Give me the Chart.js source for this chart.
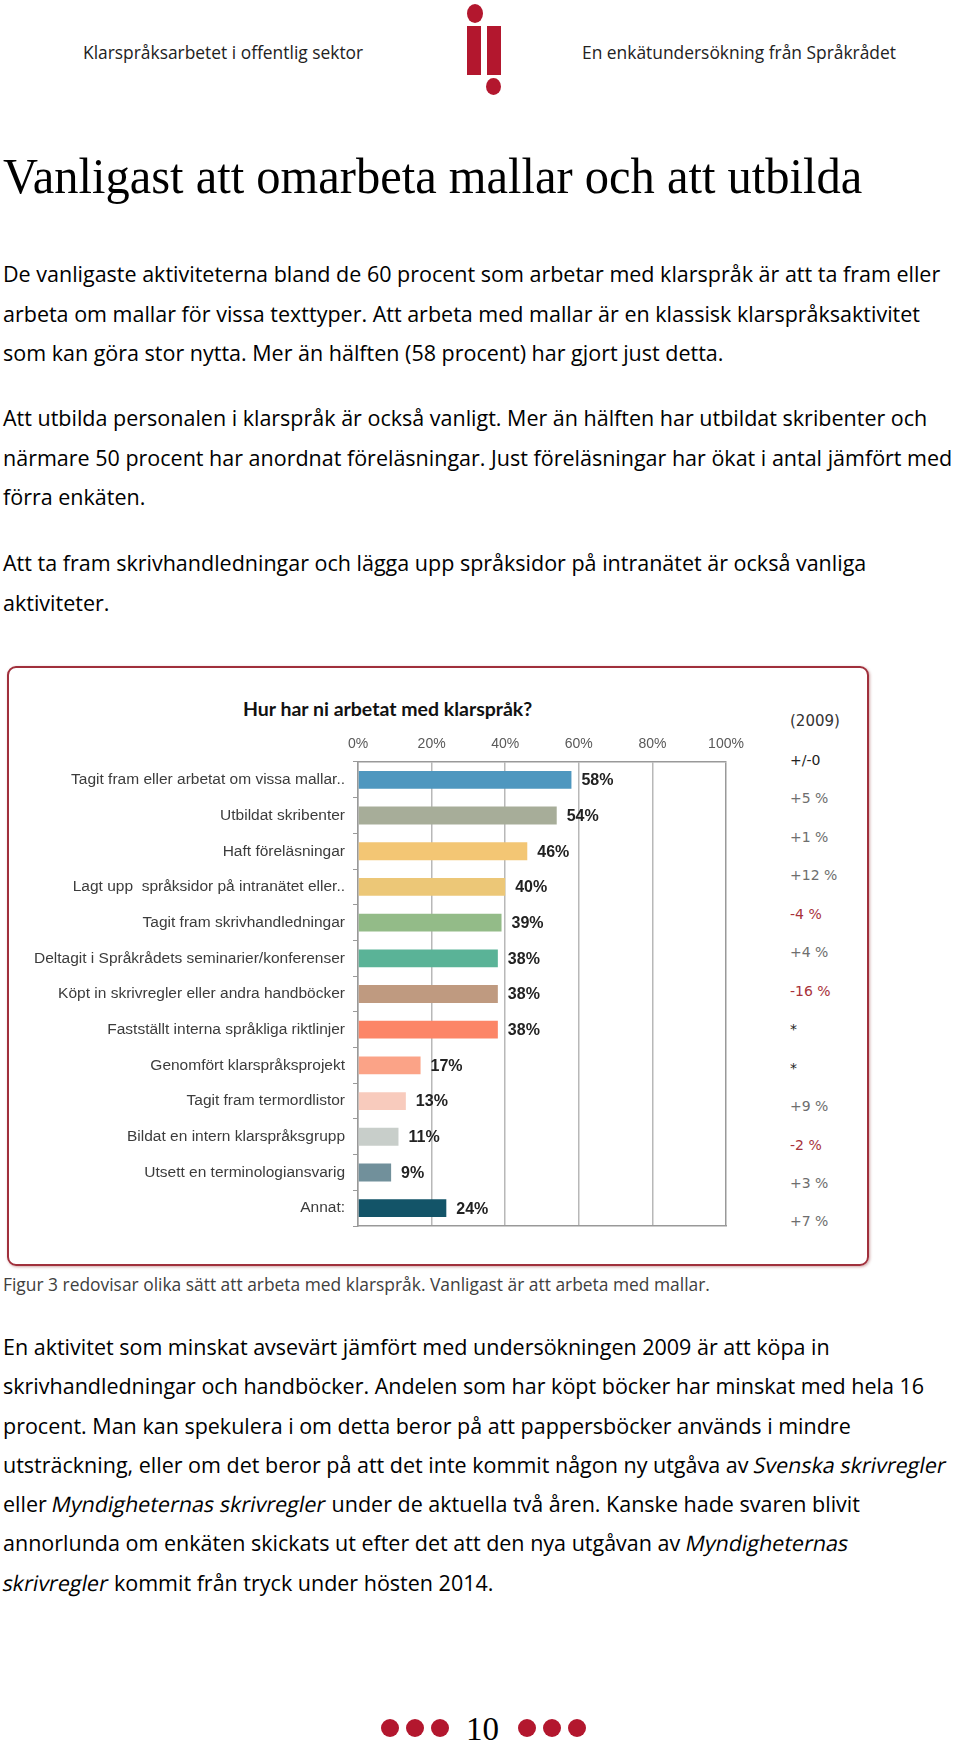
<!DOCTYPE html>
<html lang="sv">
<head>
<meta charset="utf-8">
<script src="https://cdn.jsdelivr.net/npm/chart.js@4.4.1/dist/chart.umd.min.js"></script>
<style>
  body { margin: 0; background: #fff; }
  #page { position: relative; width: 960px; height: 1746px; overflow: hidden; font-family: "Open Sans", sans-serif; color: #000; }
  .abs { position: absolute; white-space: nowrap; }
  .head { font-size: 17.4px; line-height: 20px; color: #222; top: 42px; }
  .body { font-size: 21.5px; line-height: 39.6px; left: 3px; }
  .kursiv { display: inline-block; transform: skewX(-11deg); }
  #rubrik { font-family: "Liberation Serif", serif; font-size: 50px; line-height: 60px; left: 3px; top: 146px; transform-origin: left center; transform: scaleX(0.97); }
  #ram { position: absolute; left: 7px; top: 666px; width: 858px; height: 596px; border: 2.5px solid #a0303c; border-radius: 9px; box-shadow: 1px 1px 3px rgba(120,0,0,0.35); }
  #charttitel { font-family: Lato, sans-serif; font-weight: bold; font-size: 19.5px; line-height: 24px; left: 243px; top: 697px; color: #111; }
  .andring { font-family: "DejaVu Sans", sans-serif; font-size: 14px; line-height: 20px; left: 790px; }
  #caption { font-size: 17.4px; line-height: 20px; left: 3px; top: 1274px; color: #404040; }
  .dot { position: absolute; width: 18px; height: 18px; border-radius: 50%; background: #b3172e; top: 1719px; }
  .logo { position: absolute; background: #b3172e; }
</style>
</head>
<body>
<div id="page">
  <div class="abs head" style="left:83px">Klarspråksarbetet i offentlig sektor</div>
  <div class="abs head" style="left:582px">En enkätundersökning från Språkrådet</div>
  <div class="logo" style="left:467px;top:4px;width:16px;height:19px;border-radius:50%"></div>
  <div class="logo" style="left:467px;top:26px;width:14px;height:49px"></div>
  <div class="logo" style="left:487px;top:26px;width:14px;height:49px"></div>
  <div class="logo" style="left:486px;top:78px;width:15px;height:17px;border-radius:50%"></div>

  <div id="rubrik" class="abs">Vanligast att omarbeta mallar och att utbilda</div>

  <div class="abs body" style="top:254px">De vanligaste aktiviteterna bland de 60 procent som arbetar med klarspråk är att ta fram eller<br>arbeta om mallar för vissa texttyper. Att arbeta med mallar är en klassisk klarspråksaktivitet<br>som kan göra stor nytta. Mer än hälften (58 procent) har gjort just detta.</div>
  <div class="abs body" style="top:398px">Att utbilda personalen i klarspråk är också vanligt. Mer än hälften har utbildat skribenter och<br>närmare 50 procent har anordnat föreläsningar. Just föreläsningar har ökat i antal jämfört med<br>förra enkäten.</div>
  <div class="abs body" style="top:543px">Att ta fram skrivhandledningar och lägga upp språksidor på intranätet är också vanliga<br>aktiviteter.</div>

  <div id="ram"></div>
  <div id="charttitel" class="abs">Hur har ni arbetat med klarspråk?</div>
  <canvas id="chart" width="760" height="560" style="position:absolute;left:0;top:690px"></canvas>
  <div id="andringar"></div>

  <div id="caption" class="abs">Figur 3 redovisar olika sätt att arbeta med klarspråk. Vanligast är att arbeta med mallar.</div>

  <div class="abs body" style="top:1327px;line-height:39.3px">En aktivitet som minskat avsevärt jämfört med undersökningen 2009 är att köpa in<br>skrivhandledningar och handböcker. Andelen som har köpt böcker har minskat med hela 16<br>procent. Man kan spekulera i om detta beror på att pappersböcker används i mindre<br>utsträckning, eller om det beror på att det inte kommit någon ny utgåva av <span class="kursiv">Svenska skrivregler</span><br>eller <span class="kursiv">Myndigheternas skrivregler</span> under de aktuella två åren. Kanske hade svaren blivit<br>annorlunda om enkäten skickats ut efter det att den nya utgåvan av <span class="kursiv">Myndigheternas</span><br><span class="kursiv">skrivregler</span> kommit från tryck under hösten 2014.</div>

  <div class="dot" style="left:381px"></div>
  <div class="dot" style="left:406px"></div>
  <div class="dot" style="left:431px"></div>
  <div class="abs" style="left:466px;top:1709px;font-family:'Liberation Serif',serif;font-size:33px;line-height:40px">10</div>
  <div class="dot" style="left:518px"></div>
  <div class="dot" style="left:543px"></div>
  <div class="dot" style="left:568px"></div>
</div>

<script>
// data
const kategorier = [
  'Tagit fram eller arbetat om vissa mallar..',
  'Utbildat skribenter',
  'Haft föreläsningar',
  'Lagt upp  språksidor på intranätet eller..',
  'Tagit fram skrivhandledningar',
  'Deltagit i Språkrådets seminarier/konferenser',
  'Köpt in skrivregler eller andra handböcker',
  'Fastställt interna språkliga riktlinjer',
  'Genomfört klarspråksprojekt',
  'Tagit fram termordlistor',
  'Bildat en intern klarspråksgrupp',
  'Utsett en terminologiansvarig',
  'Annat:'
];
const andel = [58, 54, 46, 40, 39, 38, 38, 38, 17, 13, 11, 9, 24];
const farger = ['#4e97bf', '#a7ad99', '#f3c674', '#ecc777', '#93bb88', '#5ab397', '#bf9a80',
  '#fc8567', '#fba387', '#f8cbbd', '#c8ceca', '#71909b', '#135468'];
const andring2009 = ['+/-0', '+5 %', '+1 %', '+12 %', '-4 %', '+4 %', '-16 %', '*', '*', '+9 %', '-2 %', '+3 %', '+7 %'];
const xTicks = [0, 20, 40, 60, 80, 100];

// kolumnen med förändring sedan 2009
const box = document.getElementById('andringar');
function addText(txt, top, color, size) {
  const d = document.createElement('div');
  d.className = 'abs andring';
  d.style.top = top + 'px';
  d.style.color = color;
  if (size) d.style.fontSize = size + 'px';
  d.textContent = txt;
  box.appendChild(d);
}
addText('(2009)', 711, '#333', 15);
andring2009.forEach((t, i) => {
  let c = '#6e6e6e';
  if (t.startsWith('-')) c = '#a8323a';
  else if (t === '*' || t === '+/-0') c = '#222';
  addText(t, 750 + i * 38.45, c);
});

// procentetiketter vid staplarna
const stapelEtiketter = {
  id: 'stapelEtiketter',
  afterDatasetsDraw(chart) {
    const ctx = chart.ctx;
    const meta = chart.getDatasetMeta(0);
    ctx.save();
    ctx.font = 'bold 16px "Liberation Sans", Arial, sans-serif';
    ctx.fillStyle = '#222';
    ctx.textAlign = 'left';
    ctx.textBaseline = 'middle';
    meta.data.forEach((bar, i) => {
      ctx.fillText(andel[i] + '%', bar.x + 10, bar.y + 1);
    });
    ctx.restore();
  }
};

new Chart(document.getElementById('chart').getContext('2d'), {
  type: 'bar',
  data: {
    labels: kategorier,
    datasets: [{
      data: andel,
      backgroundColor: farger,
      barPercentage: 0.5,
      categoryPercentage: 1.0
    }]
  },
  options: {
    indexAxis: 'y',
    responsive: false,
    devicePixelRatio: 1,
    animation: false,
    layout: { padding: { left: 0, right: 34, top: 0, bottom: 0 } },
    plugins: { legend: { display: false }, tooltip: { enabled: false } },
    scales: {
      x: {
        position: 'top',
        min: 0,
        max: 100,
        afterBuildTicks: (scale) => { scale.ticks = xTicks.map(v => ({ value: v })); },
        afterFit: (scale) => { scale.height = 72; },
        grid: {
          color: (c) => c.tick && c.tick.value === 100 ? '#999' : '#b8b8b8',
          lineWidth: 1.5,
          drawTicks: false
        },
        border: { display: true, color: '#999', width: 1.5 },
        ticks: {
          padding: 9,
          color: '#595959',
          font: { family: '"Liberation Sans", Arial, sans-serif', size: 14 },
          callback: (v) => v + '%'
        }
      },
      x2: {
        position: 'bottom',
        axis: 'x',
        min: 0,
        max: 100,
        afterFit: (scale) => { scale.height = 24; },
        grid: { display: false },
        border: { display: true, color: '#999', width: 1.5 },
        ticks: { display: false }
      },
      y: {
        afterFit: (scale) => { scale.width = 358; },
        grid: { offset: true, drawOnChartArea: false, tickLength: 5, color: '#999' },
        border: { display: true, color: '#999', width: 1.5 },
        ticks: {
          padding: 8,
          color: '#3c3c3c',
          font: { family: '"Liberation Sans", Arial, sans-serif', size: 15.5 }
        }
      }
    }
  },
  plugins: [stapelEtiketter]
});
</script>
</body>
</html>
